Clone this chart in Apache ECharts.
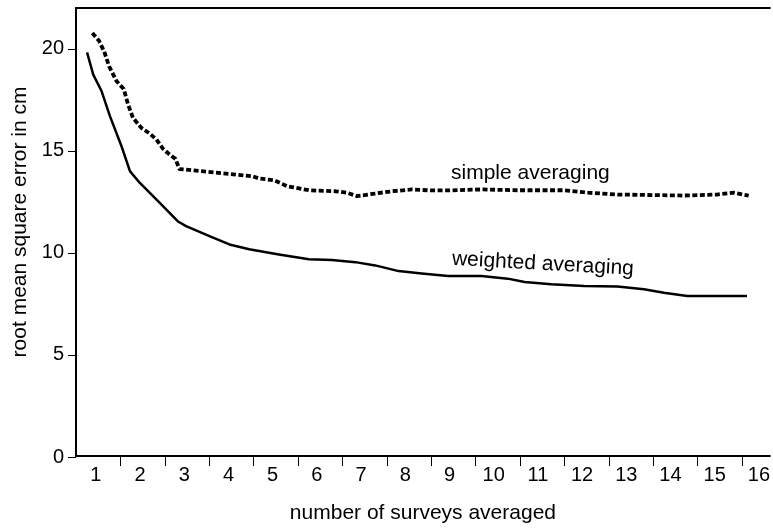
<!DOCTYPE html>
<html>
<head>
<meta charset="utf-8">
<script src="https://cdn.jsdelivr.net/npm/echarts@6/dist/echarts.min.js"></script>
<style>html,body{margin:0;padding:0;background:#fff}#c{width:773px;height:529px}</style>
</head>
<body>
<div id="c"></div>
<script>
// Tick labels (number of surveys averaged) and y tick labels
var xTickLabels = [1,2,3,4,5,6,7,8,9,10,11,12,13,14,15,16];
var yTickLabels = [0,5,10,15,20];

// simple averaging (dashed): x positions and values
var simpleX = [0.92,1.07,1.19,1.30,1.47,1.63,1.73,1.84,2.03,2.22,2.37,2.52,2.67,2.80,2.89,3.00,4.54,4.69,5.03,5.33,5.82,6.42,6.68,6.91,7.32,7.70,8.15,8.60,8.97,9.72,10.55,11.23,11.60,12.13,12.80,14.30,15.05,15.43,15.77];
var simpleY = [20.77,20.39,19.85,19.13,18.40,18.02,17.25,16.60,16.11,15.83,15.54,15.08,14.80,14.59,14.09,14.07,13.74,13.63,13.54,13.25,13.05,13.00,12.93,12.76,12.89,13.00,13.09,13.04,13.04,13.09,13.05,13.05,13.05,12.93,12.84,12.79,12.84,12.93,12.79];

// weighted averaging (solid)
var weightedX = [0.80,0.94,1.13,1.32,1.58,1.77,1.99,2.44,2.85,3.04,3.57,4.02,4.47,5.14,5.82,6.34,6.87,7.32,7.85,8.37,8.97,9.72,10.32,10.70,11.30,12.05,12.80,13.40,13.85,14.38,15.73];
var weightedY = [19.82,18.73,17.91,16.68,15.21,13.99,13.42,12.44,11.53,11.29,10.80,10.39,10.15,9.90,9.66,9.62,9.52,9.36,9.08,8.96,8.84,8.84,8.71,8.54,8.43,8.35,8.32,8.19,8.02,7.86,7.86];

var seriesNames = ['simple averaging','weighted averaging'];
var xName = 'number of surveys averaged';
var yName = 'root mean square error in cm';

function pairs(xs, ys){ return xs.map(function(x,i){ return [x, ys[i]]; }); }

var FONT = '"Liberation Sans", Arial, Helvetica, sans-serif';
var chart = echarts.init(document.getElementById('c'), null, {renderer:'canvas'});

// layout of the plot box
var L = 76, R = 0, T = 8, B = 72, W = 773;
var xMin = 0.55, xMax = 16.248, yMax = 22;
var pxPerX = (W - L - R) / (xMax - xMin);
var plotH = 529 - T - B;
var top20 = T + plotH * (yMax - 20) / yMax;          // where y = 20 sits
var tickLeft = L + (1.55 - xMin) * pxPerX;          // separators between labels
var tickRight = W - (L + (15.55 - xMin) * pxPerX);

chart.setOption({
  animation: false,
  backgroundColor: '#fff',
  textStyle: {fontFamily: FONT},
  grid: [
    {left: L, right: R, top: T, bottom: B},
    {left: L, right: R, top: top20, bottom: B},
    {left: tickLeft, right: tickRight, top: T, bottom: B}
  ],
  xAxis: [{
    gridIndex: 0, type: 'value', position: 'bottom', min: xMin, max: xMax, minInterval: 1, maxInterval: 1, splitNumber: 16,
    name: xName, nameLocation: 'middle', nameGap: 47,
    nameTextStyle: {fontSize: 21, color: '#000', fontFamily: FONT},
    axisLine: {show: true, lineStyle: {color: '#000', width: 2}},
    axisTick: {show: false},
    splitLine: {show: false},
    axisLabel: {fontSize: 20, color: '#000', fontFamily: FONT, margin: 9,
      showMinLabel: false, showMaxLabel: false,
      formatter: function(v){ var r = Math.round(v*1000)/1000; return xTickLabels.indexOf(r) >= 0 ? String(r) : ''; }}
  }, {
    gridIndex: 1, type: 'value', show: false, min: 0, max: 1
  }, {
    gridIndex: 2, type: 'value', min: 1, max: 15, interval: 1,
    axisLine: {show: false},
    axisTick: {show: true, length: 9, lineStyle: {color: '#000', width: 1}},
    axisLabel: {show: false}, splitLine: {show: false}
  }, {
    gridIndex: 0, type: 'value', position: 'top', min: xMin, max: xMax,
    axisLine: {show: true, lineStyle: {color: '#000', width: 2}},
    axisTick: {show: false}, axisLabel: {show: false}, splitLine: {show: false}
  }],
  yAxis: [{
    gridIndex: 0, type: 'value', min: 0, max: yMax, interval: 5,
    name: yName, nameLocation: 'middle', nameGap: 45,
    nameTextStyle: {fontSize: 21, color: '#000', fontFamily: FONT, padding: [0,0,0,20]},
    axisLine: {show: true, lineStyle: {color: '#000', width: 2}},
    axisTick: {show: false},
    splitLine: {show: false},
    axisLabel: {show: false}
  }, {
    gridIndex: 1, type: 'value', min: 0, max: 20, interval: 5,
    axisLine: {show: false},
    axisTick: {show: true, length: 8, lineStyle: {color: '#000', width: 1}},
    splitLine: {show: false},
    axisLabel: {fontSize: 20, color: '#000', fontFamily: FONT, margin: 12,
      formatter: function(v){ return yTickLabels.indexOf(v) >= 0 ? String(v) : ''; }}
  }, {
    gridIndex: 2, type: 'value', show: false, min: 0, max: 1
  }],
  series: [{
    name: seriesNames[0], type: 'line', xAxisIndex: 0, yAxisIndex: 0, showSymbol: false, symbol: 'none',
    data: pairs(simpleX, simpleY),
    lineStyle: {color: '#000', width: 3.8, type: [5, 2.5], cap: 'butt', join: 'round'}
  }, {
    name: seriesNames[1], type: 'line', xAxisIndex: 0, yAxisIndex: 0, showSymbol: false, symbol: 'none',
    data: pairs(weightedX, weightedY),
    lineStyle: {color: '#000', width: 2.5, type: 'solid', join: 'round'}
  }],
  graphic: [{
    type: 'text', x: 451, y: 173,
    style: {text: seriesNames[0], fill: '#000', font: '21px ' + FONT, textAlign: 'left', textVerticalAlign: 'middle'}
  }, {
    type: 'text', x: 452, y: 259, rotation: -0.055,
    style: {text: seriesNames[1], fill: '#000', font: '21px ' + FONT, textAlign: 'left', textVerticalAlign: 'middle'}
  }]
});
</script>
</body>
</html>
